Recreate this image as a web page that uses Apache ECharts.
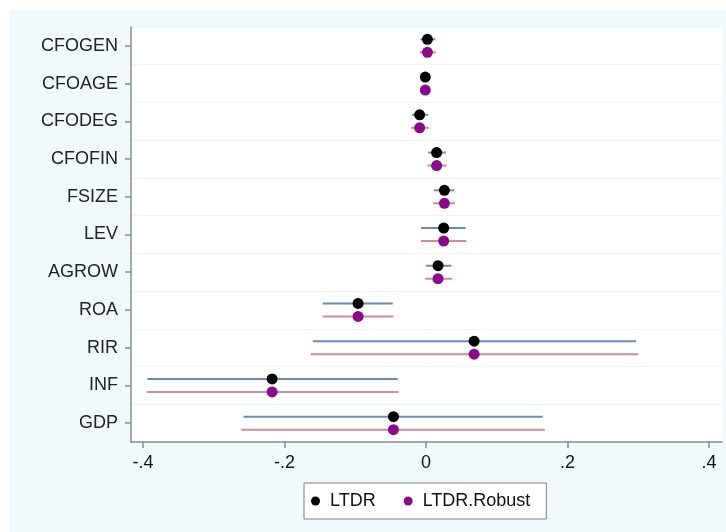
<!DOCTYPE html>
<html>
<head>
<meta charset="utf-8">
<script src="https://cdn.jsdelivr.net/npm/echarts@6/dist/echarts.min.js"></script>
<style>
  html, body { margin: 0; padding: 0; background: #fff; }
  #wrap { position: relative; width: 726px; height: 532px; background: #fff; }
  #bg { position: absolute; left: 9px; top: 10px; right: 0; bottom: 0; background: #f1f9fd; }
  #main { position: absolute; left: 0; top: 0; width: 726px; height: 532px; }
</style>
</head>
<body>
<div id="wrap"><div id="bg"></div><div id="main"></div></div>
<script>
const cats = ['CFOGEN', 'CFOAGE', 'CFODEG', 'CFOFIN', 'FSIZE', 'LEV', 'AGROW', 'ROA', 'RIR', 'INF', 'GDP']

// LTDR
const ltdrEst = [0.002, -0.001, -0.009, 0.015, 0.026, 0.025, 0.017, -0.096, 0.068, -0.2175, -0.046]
const ltdrLo  = [-0.008, -0.005, -0.020, 0.003, 0.011, -0.007, 0.000, -0.146, -0.160, -0.394, -0.258]
const ltdrHi  = [0.013, 0.003, 0.003, 0.028, 0.040, 0.056, 0.036, -0.047, 0.297, -0.040, 0.165]

// LTDR.Robust
const robEst = [0.002, -0.001, -0.009, 0.015, 0.026, 0.025, 0.017, -0.096, 0.068, -0.2175, -0.046]
const robLo  = [-0.009, -0.005, -0.021, 0.002, 0.010, -0.007, -0.001, -0.146, -0.163, -0.395, -0.261]
const robHi  = [0.014, 0.003, 0.004, 0.029, 0.041, 0.057, 0.037, -0.046, 0.300, -0.039, 0.168]

const xTicks = [-0.4, -0.2, 0, 0.2, 0.4]
const xTickLabels = ['-.4', '-.2', '0', '.2', '.4']

const font = 'Liberation Sans, Arial, sans-serif'

function ciSeries(lo, hi, color, dy) {
  return {
    type: 'custom',
    xAxisIndex: 1,
    yAxisIndex: 1,
    silent: true,
    z: 2,
    encode: { x: [0, 1], y: 2 },
    data: cats.map((c, i) => [lo[i], hi[i], c]),
    renderItem: (params, api) => {
      const a = api.coord([api.value(0), api.value(2)])
      const b = api.coord([api.value(1), api.value(2)])
      return {
        type: 'line',
        shape: { x1: a[0], y1: a[1] + dy, x2: b[0], y2: b[1] + dy },
        style: { stroke: color, lineWidth: 2 }
      }
    }
  }
}

function pointSeries(name, est, color, dy) {
  return {
    name: name,
    type: 'scatter',
    xAxisIndex: 1,
    yAxisIndex: 1,
    z: 3,
    symbol: 'circle',
    symbolSize: 11,
    symbolOffset: [0, dy],
    itemStyle: { color: color, opacity: 1 },
    data: cats.map((c, i) => [est[i], c])
  }
}

const chart = echarts.init(document.getElementById('main'))
chart.setOption({
  backgroundColor: 'transparent',
  animation: false,
  grid: [
    { left: 131, right: 4, top: 27, bottom: 90, show: true, backgroundColor: '#fff', borderWidth: 0 },
    { left: 143, right: 17, top: 27, bottom: 90 }
  ],
  xAxis: [
    {
      gridIndex: 0, type: 'value', min: -1, max: 1,
      axisLine: { show: true, onZero: false, lineStyle: { color: '#8a8a8a', width: 1.5 } },
      axisTick: { show: false }, axisLabel: { show: false }, splitLine: { show: false }
    },
    {
      gridIndex: 1, type: 'value', min: -0.4, max: 0.4, interval: 0.2,
      axisLine: { show: false, onZero: false },
      axisTick: { show: true, length: 6, lineStyle: { color: '#8a8a8a', width: 1.5 } },
      axisLabel: {
        margin: 12, fontSize: 18, fontFamily: font, color: '#111',
        formatter: v => {
          const k = xTicks.findIndex(t => Math.abs(t - v) < 1e-9)
          return k >= 0 ? xTickLabels[k] : ''
        }
      },
      splitLine: { show: false }
    }
  ],
  yAxis: [
    {
      gridIndex: 0, type: 'category', data: cats, inverse: true,
      axisLine: { show: true, onZero: false, lineStyle: { color: '#8a8a8a', width: 1.5 } },
      axisTick: { show: true, alignWithLabel: true, length: 6, lineStyle: { color: '#8a8a8a', width: 1.5 } },
      axisLabel: { margin: 13, fontSize: 18, fontFamily: font, color: '#222' },
      splitLine: { show: true, lineStyle: { color: '#eef5f9', width: 1 } }
    },
    {
      gridIndex: 1, type: 'category', data: cats, inverse: true,
      axisLine: { show: false, onZero: false }, axisTick: { show: false }, axisLabel: { show: false },
      splitLine: { show: false }
    }
  ],
  legend: {
    data: [{ name: 'LTDR', icon: 'circle' }, { name: 'LTDR.Robust', icon: 'circle' }],
    left: 304,
    top: 483,
    padding: [9, 16, 9, 7],
    itemWidth: 9,
    itemHeight: 9,
    itemGap: 28,
    backgroundColor: '#fff',
    borderColor: '#7f7f7f',
    borderWidth: 1,
    borderRadius: 0,
    textStyle: { fontSize: 18, fontFamily: font, color: '#111', padding: [0, 0, 0, 5] }
  },
  series: [
    ciSeries(ltdrLo, ltdrHi, '#6a8cb4', -6.5),
    ciSeries(robLo, robHi, '#cf8a95', 6.5),
    pointSeries('LTDR', ltdrEst, '#000000', -6.5),
    pointSeries('LTDR.Robust', robEst, '#8b0a8b', 6.5)
  ]
})
</script>
</body>
</html>
